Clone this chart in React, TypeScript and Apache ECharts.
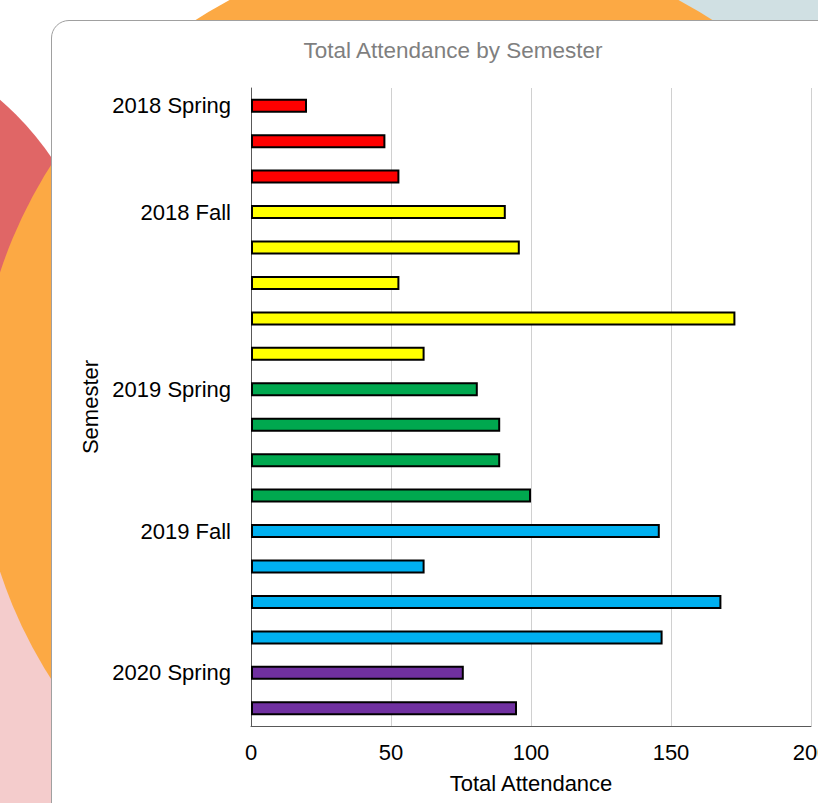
import React, { useEffect, useRef } from "react";
import * as echarts from "echarts";

// Semester of each bar (top to bottom) and its total attendance
const semesters = [
  "2018 Spring", "2018 Spring", "2018 Spring",
  "2018 Fall", "2018 Fall", "2018 Fall", "2018 Fall", "2018 Fall",
  "2019 Spring", "2019 Spring", "2019 Spring", "2019 Spring",
  "2019 Fall", "2019 Fall", "2019 Fall", "2019 Fall",
  "2020 Spring", "2020 Spring",
];
const attendance = [20, 48, 53, 91, 96, 53, 173, 62, 81, 89, 89, 100, 146, 62, 168, 147, 76, 95];
const semesterNames = ["2018 Spring", "2018 Fall", "2019 Spring", "2019 Fall", "2020 Spring"];
const semesterColors = ["#FF0000", "#FFFF00", "#00A84F", "#00B0F0", "#7030A0"];
const xMin = 0;
const xMax = 200;
const xStep = 50;

const FONT = "'Liberation Sans', Arial, Helvetica, sans-serif";

function Circle({ cx, cy, r, color }: { cx: number; cy: number; r: number; color: string }) {
  return (
    <div
      style={{
        position: "absolute",
        left: cx - r,
        top: cy - r,
        width: 2 * r,
        height: 2 * r,
        borderRadius: "50%",
        background: color,
      }}
    />
  );
}

export default function App() {
  const ref = useRef<HTMLDivElement>(null);

  useEffect(() => {
    if (!ref.current) return;
    const chart = echarts.init(ref.current, undefined, { renderer: "svg" });
    const data = attendance.map((v, i) => ({
      value: v,
      itemStyle: { color: semesterColors[semesterNames.indexOf(semesters[i])] },
    }));
    chart.setOption({
      animation: false,
      backgroundColor: "transparent",
      textStyle: { fontFamily: FONT },
      graphic: [
        {
          type: "text",
          x: 453,
          y: 50,
          style: {
            text: "Total Attendance by Semester",
            fill: "#7f7f7f",
            font: `22.5px ${FONT}`,
            textAlign: "center",
            textVerticalAlign: "middle",
          },
        },
      ],
      grid: {
        left: 251,
        right: 7,
        top: 88,
        bottom: 77,
        containLabel: false,
        outerBoundsMode: "none",
      },
      xAxis: {
        type: "value",
        min: xMin,
        max: xMax,
        interval: xStep,
        axisLine: { show: true, lineStyle: { color: "#595959", width: 1 } },
        axisTick: { show: false },
        splitLine: { show: true, lineStyle: { color: "#d0d0d0", width: 1 } },
        axisLabel: { color: "#000", fontSize: 22, margin: 15, fontFamily: FONT, hideOverlap: false },
        name: "Total Attendance",
        nameLocation: "middle",
        nameGap: 46,
        nameTextStyle: { color: "#000", fontSize: 22, fontFamily: FONT },
      },
      yAxis: {
        type: "category",
        data: semesters,
        inverse: true,
        axisLine: { show: true, lineStyle: { color: "#595959", width: 1 } },
        axisTick: { show: false },
        splitLine: { show: false },
        axisLabel: {
          color: "#000",
          fontSize: 22,
          margin: 20,
          fontFamily: FONT,
          interval: (index: number) => index === 0 || semesters[index - 1] !== semesters[index],
        },
        name: "Semester",
        nameLocation: "middle",
        nameRotate: 90,
        nameGap: 148,
        nameTextStyle: { color: "#000", fontSize: 22, fontFamily: FONT },
      },
      series: [
        {
          type: "bar",
          data,
          barWidth: 14,
          itemStyle: { borderColor: "#000", borderWidth: 2 },
        },
      ],
    });
    return () => chart.dispose();
  }, []);

  return (
    <div
      style={{
        position: "fixed",
        left: 0,
        top: 0,
        width: 818,
        height: 803,
        overflow: "hidden",
        background: "#ffffff",
      }}
    >
      <Circle cx={-150} cy={800} r={330} color="#F4CCCC" />
      <Circle cx={-200} cy={330} r={305} color="#E06666" />
      <Circle cx={900} cy={-60} r={260} color="#D0E0E3" />
      <Circle cx={454} cy={422} r={478} color="#FCA944" />
      <div
        style={{
          position: "absolute",
          left: 51,
          top: 20,
          width: 820,
          height: 820,
          background: "#ffffff",
          border: "1px solid #a0a0a0",
          borderTopLeftRadius: 18,
          boxSizing: "border-box",
        }}
      />
      <div ref={ref} style={{ position: "absolute", left: 0, top: 0, width: 818, height: 803 }} />
    </div>
  );
}
